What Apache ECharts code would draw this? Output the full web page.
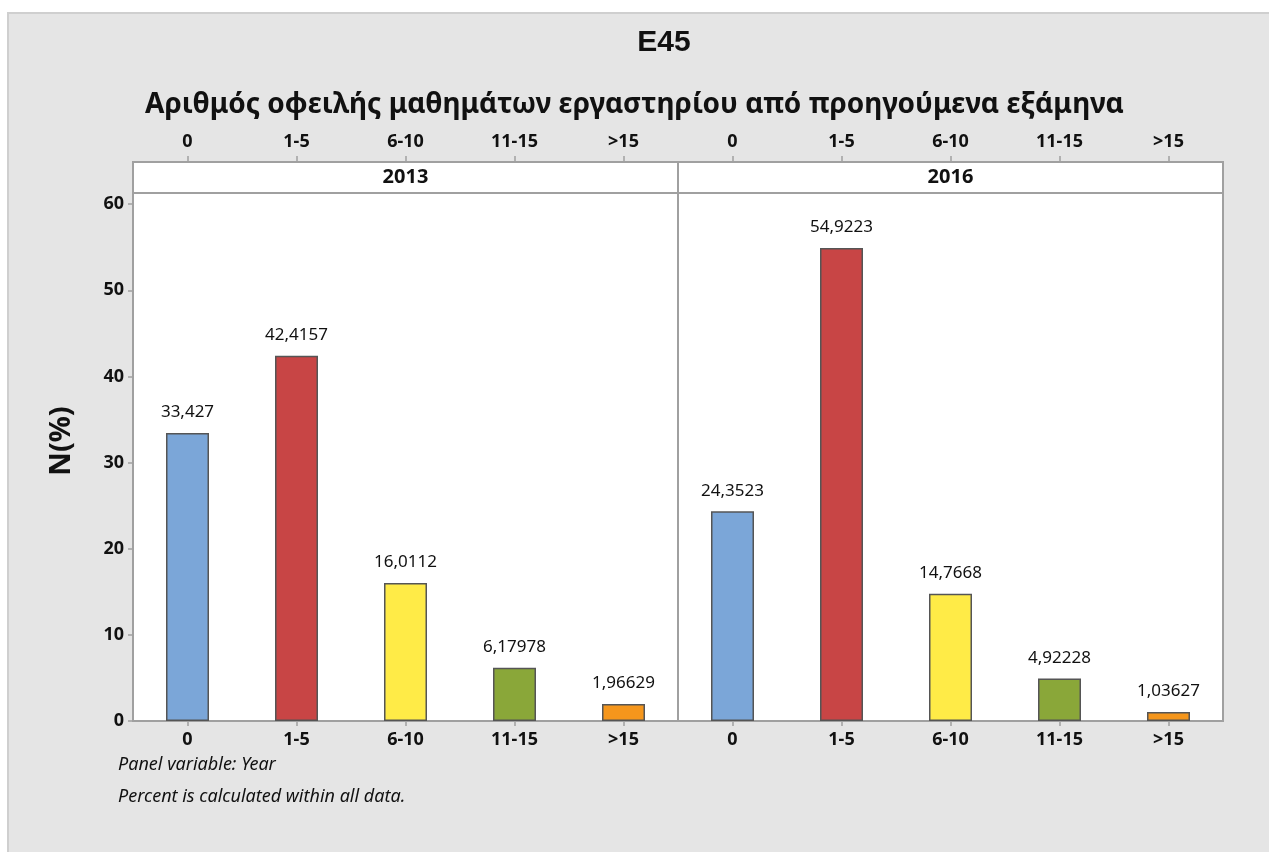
<!DOCTYPE html>
<html lang="el">
<head>
    <meta charset="UTF-8">
    <title>E45</title>
    <style>
        html, body { margin: 0; padding: 0; background: #ffffff; }
        #chart { width: 1269px; height: 852px; }
    </style>
</head>
<body>
<div id="chart"></div>
<script src="https://cdn.jsdelivr.net/npm/echarts@6/dist/echarts.min.js"></script>
<script>
    // categories and values
    var categories = ['0', '1-5', '6-10', '11-15', '>15'];
    var years = ['2013', '2016'];
    var values2013 = [33.427, 42.4157, 16.0112, 6.17978, 1.96629];
    var values2016 = [24.3523, 54.9223, 14.7668, 4.92228, 1.03627];
    var barColors = ['#7ba6d8', '#c84545', '#ffeb47', '#8aa739', '#f5961c'];

    var font = '"Noto Sans", "Open Sans", sans-serif';
    var gridLine = '#a0a0a0';

    // panel geometry
    var plotTop = 193, plotBottom = 721, stripTop = 162;
    var leftX = 133, midX = 678, rightX = 1223;

    function toData(vals) {
        return vals.map(function (v, i) {
            return {value: v, itemStyle: {color: barColors[i]}};
        });
    }

    function fmt(p) {
        return String(p.value).replace('.', ',');
    }

    var chart = echarts.init(document.getElementById('chart'));

    var xBottom = function (gi) {
        return {
            type: 'category', gridIndex: gi, data: categories, position: 'bottom',
            axisLine: {show: false},
            axisTick: {show: true, alignWithLabel: true, length: 5, lineStyle: {color: gridLine, width: 1.5}},
            axisLabel: {color: '#111', fontFamily: font, fontWeight: 'bold', fontSize: 18, margin: 10}
        };
    };
    var xTop = function (gi) {
        return {
            type: 'category', gridIndex: gi, data: categories, position: 'top',
            offset: plotTop - stripTop,
            axisLine: {show: false},
            axisTick: {show: true, alignWithLabel: true, length: 6, lineStyle: {color: gridLine, width: 1.5}},
            axisLabel: {color: '#111', fontFamily: font, fontWeight: 'bold', fontSize: 18, margin: 11}
        };
    };

    var option = {
        backgroundColor: '#ffffff',
        animation: false,
        title: [
            {
                text: 'Αριθμός οφειλής μαθημάτων εργαστηρίου από προηγούμενα εξάμηνα',
                left: 'center', top: 86,
                textStyle: {fontFamily: font, fontWeight: 'bold', fontSize: 28, color: '#111'}
            }
        ],
        grid: [
            {left: leftX, right: 1269 - midX, top: plotTop, bottom: 852 - plotBottom,
                show: true, backgroundColor: '#ffffff', borderColor: gridLine, borderWidth: 2},
            {left: midX, right: 1269 - rightX, top: plotTop, bottom: 852 - plotBottom,
                show: true, backgroundColor: '#ffffff', borderColor: gridLine, borderWidth: 2}
        ],
        xAxis: [xBottom(0), xBottom(1), xTop(0), xTop(1)],
        yAxis: [
            {
                type: 'value', gridIndex: 0, min: 0, max: 61.3, interval: 10,
                axisLine: {show: false},
                axisTick: {show: true, length: 5, lineStyle: {color: gridLine, width: 1.5}},
                axisLabel: {color: '#111', fontFamily: font, fontWeight: 'bold', fontSize: 18, margin: 9,
                    showMaxLabel: false},
                splitLine: {show: false}
            },
            {
                type: 'value', gridIndex: 1, min: 0, max: 61.3, interval: 10,
                axisLine: {show: false}, axisTick: {show: false},
                axisLabel: {show: false}, splitLine: {show: false}
            }
        ],
        series: [
            {
                type: 'bar', xAxisIndex: 0, yAxisIndex: 0, barWidth: 43,
                data: toData(values2013),
                itemStyle: {borderColor: '#555555', borderWidth: 1.5},
                label: {show: true, position: 'top', distance: 12, formatter: fmt,
                    fontFamily: font, fontSize: 17, color: '#111'}
            },
            {
                type: 'bar', xAxisIndex: 1, yAxisIndex: 1, barWidth: 43,
                data: toData(values2016),
                itemStyle: {borderColor: '#555555', borderWidth: 1.5},
                label: {show: true, position: 'top', distance: 12, formatter: fmt,
                    fontFamily: font, fontSize: 17, color: '#111'}
            }
        ],
        graphic: [
            // outer panel background
            {type: 'rect', z: -10, silent: true,
                shape: {x: 8, y: 13, width: 1300, height: 900},
                style: {fill: '#e5e5e5', stroke: '#cfcfcf', lineWidth: 2}},
            // main title
            {type: 'text', x: 664, y: 43,
                style: {text: 'E45', align: 'center', verticalAlign: 'middle',
                    font: 'bold 30px "Liberation Sans", Arial, sans-serif', fill: '#111'}},
            // y axis title
            {type: 'text', x: 62, y: 441, rotation: Math.PI / 2,
                style: {text: 'N(%)', align: 'center', verticalAlign: 'middle',
                    font: 'bold 29px ' + font, fill: '#111'}},
            // year strip
            {type: 'rect', z: 5, shape: {x: leftX, y: stripTop, width: midX - leftX, height: plotTop - stripTop},
                style: {fill: '#ffffff', stroke: gridLine, lineWidth: 2}},
            {type: 'rect', z: 5, shape: {x: midX, y: stripTop, width: rightX - midX, height: plotTop - stripTop},
                style: {fill: '#ffffff', stroke: gridLine, lineWidth: 2}},
            {type: 'text', z: 6, x: (leftX + midX) / 2, y: (stripTop + plotTop) / 2,
                style: {text: years[0], align: 'center', verticalAlign: 'middle',
                    font: 'bold 20px ' + font, fill: '#111'}},
            {type: 'text', z: 6, x: (midX + rightX) / 2, y: (stripTop + plotTop) / 2,
                style: {text: years[1], align: 'center', verticalAlign: 'middle',
                    font: 'bold 20px ' + font, fill: '#111'}},
            // footnotes
            {type: 'text', x: 118, y: 765, style: {text: 'Panel variable: Year', verticalAlign: 'middle',
                    font: 'italic 18px ' + font, fill: '#111'}},
            {type: 'text', x: 118, y: 797, style: {text: 'Percent is calculated within all data.', verticalAlign: 'middle',
                    font: 'italic 18px ' + font, fill: '#111'}}
        ]
    };

    chart.setOption(option);
</script>
</body>
</html>
